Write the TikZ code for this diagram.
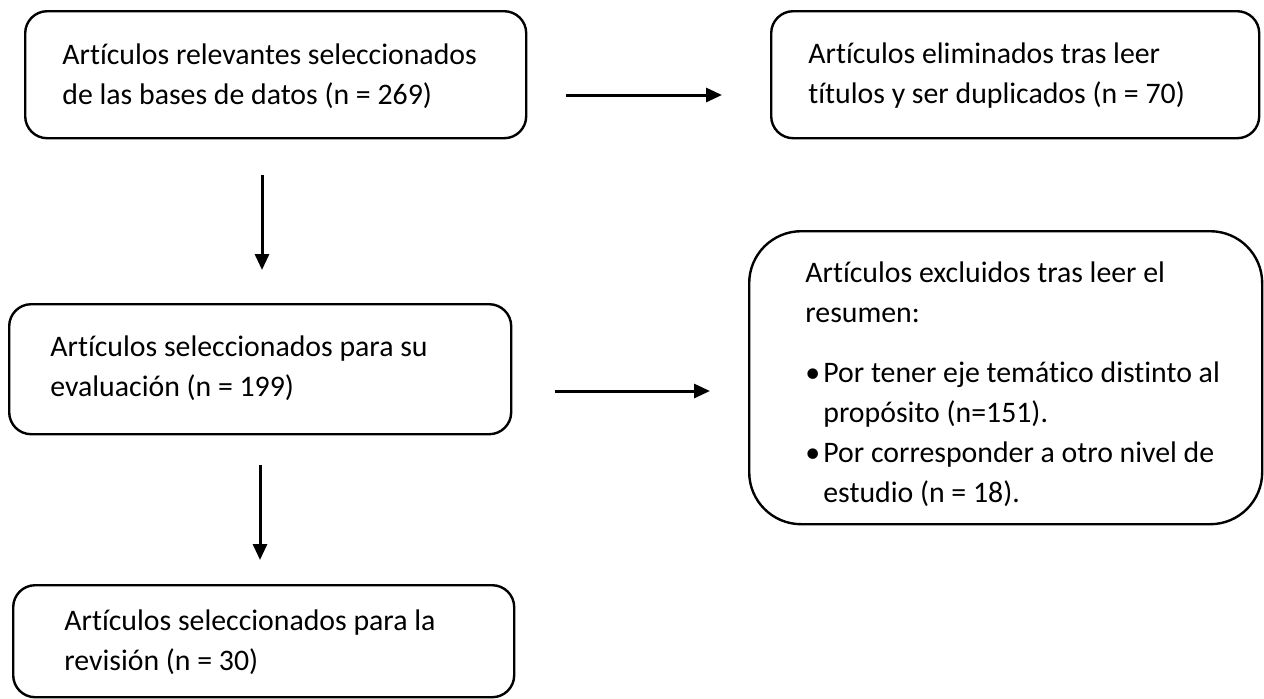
\documentclass[tikz,border=0pt]{standalone}
\usepackage{fontspec}
\setmainfont{Carlito}[Ligatures=NoCommon]
\usetikzlibrary{arrows.meta}
\begin{document}
\begin{tikzpicture}[x=0.5pt,y=-0.5pt,
  boxshape/.style={draw, line width=1.2pt, rectangle, rounded corners=11pt, anchor=north west, inner sep=0pt},
  txt/.style={anchor=west, align=left, inner sep=0pt, font=\fontsize{14.9}{20}\selectfont},
  arr/.style={-{Triangle[length=8pt,width=7pt]}, line width=1.5pt}]
\useasboundingbox (0,0) rectangle (1264,698);
% boxes
\node[boxshape, minimum width=250.5pt, minimum height=63.5pt] (b1) at (24,10) {};
\node[boxshape, minimum width=244pt, minimum height=63.5pt] (b2) at (770,10) {};
\node[boxshape, minimum width=251pt, minimum height=65pt] (b3) at (8,303) {};
\node[boxshape, rounded corners=26pt, minimum width=256.5pt, minimum height=146.5pt] (b4) at (748,230) {};
\node[boxshape, minimum width=250.5pt, minimum height=56pt] (b5) at (12,584) {};
% texts
\node[txt] (t1) at (62,76) {Artículos relevantes seleccionados\\de las bases de datos (n = 269)};
\node[txt] (t2) at (808,76) {Artículos eliminados tras leer\\títulos y ser duplicados (n = 70)};
\node[txt] (t3) at (50,368) {Artículos seleccionados para su\\evaluación (n = 199)};
\node[txt] (t5) at (64,642) {Artículos seleccionados para la\\revisión (n = 30)};
\node[txt, anchor=north west] (t4) at (805,261) {Artículos excluidos tras leer el\\resumen:\\[10pt]%
\makebox[9pt][l]{•}Por tener eje temático distinto al\\\hspace*{9pt}propósito (n=151).\\
\makebox[9pt][l]{•}Por corresponder a otro nivel de\\\hspace*{9pt}estudio (n = 18).};
% arrow end points
\coordinate (a1s) at (566,95);  \coordinate (a1e) at (722,95);
\coordinate (a2s) at (262,175); \coordinate (a2e) at (262,270);
\coordinate (a3s) at (555,391); \coordinate (a3e) at (710,391);
\coordinate (a4s) at (260,465); \coordinate (a4e) at (260,560);
\draw[arr] (a1s) -- (a1e);
\draw[arr] (a2s) -- (a2e);
\draw[arr] (a3s) -- (a3e);
\draw[arr] (a4s) -- (a4e);
\end{tikzpicture}
\end{document}
